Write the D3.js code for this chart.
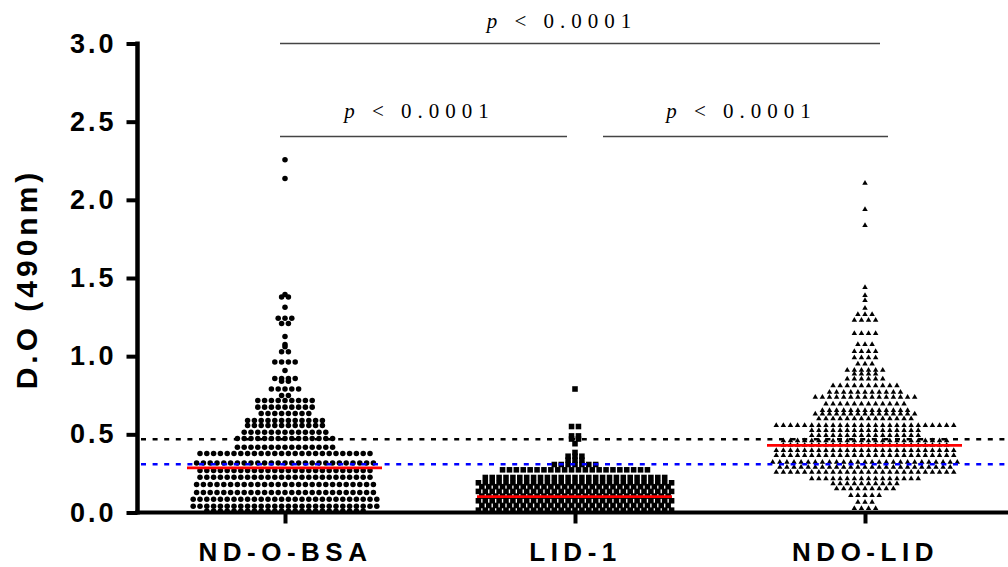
<!DOCTYPE html>
<html>
<head>
<meta charset="utf-8">
<script src="https://cdn.jsdelivr.net/npm/d3@7"></script>
<style>
  body { margin: 0; background: #fff; }
  svg text { font-family: "Liberation Sans", Arial, sans-serif; font-weight: bold; fill: #000; }
  svg text.pval { font-family: "Liberation Serif", "Times New Roman", serif; font-weight: normal; }
</style>
</head>
<body>
<svg id="chart" width="1008" height="567"></svg>
<script>
var groups = ["ND-O-BSA", "LID-1", "NDO-LID"];

// each group is drawn as rows of dots: the O.D. of the row and how many dots sit in it
var bsaRows = [0.01, 0.04, 0.085, 0.128, 0.179, 0.226, 0.269, 0.316, 0.377, 0.418, 0.473, 0.514,
  0.557, 0.589, 0.633, 0.674, 0.717, 0.749, 0.79, 0.84, 0.857, 0.908, 0.962, 1.028, 1.06, 1.075,
  1.126, 1.209, 1.243, 1.313, 1.378, 1.395, 2.137, 2.256];
var bsaCounts = [24, 28, 28, 27, 27, 26, 26, 27, 26, 15, 15, 13, 12, 12, 8, 9, 9, 2, 5, 2, 4, 1, 4,
  2, 1, 1, 1, 2, 3, 1, 2, 1, 1, 1];

var lidRows = [0.015, 0.045, 0.075, 0.105, 0.135, 0.165, 0.19, 0.224, 0.273, 0.307, 0.335, 0.36,
  0.384, 0.44, 0.47, 0.49, 0.55, 0.79];
var lidCounts = [29, 28, 29, 28, 29, 28, 29, 27, 22, 7, 3, 3, 1, 1, 2, 2, 2, 1];

var ndoRows = [0.026, 0.066, 0.109, 0.153, 0.185, 0.217, 0.258, 0.29, 0.322, 0.365, 0.397, 0.43,
  0.46, 0.493, 0.525, 0.557, 0.6, 0.63, 0.653, 0.695, 0.738, 0.769, 0.812, 0.855, 0.887, 0.91,
  0.95, 0.99, 1.03, 1.075, 1.145, 1.23, 1.267, 1.307, 1.356, 1.388, 1.44, 1.836, 1.938, 2.107];
var ndoCounts = [4, 3, 5, 9, 10, 16, 26, 25, 27, 26, 26, 24, 24, 16, 16, 26, 14, 15, 13, 12, 15,
  11, 10, 6, 4, 6, 3, 4, 4, 3, 4, 4, 3, 1, 1, 1, 1, 1, 1, 1];

var medians = [0.286, 0.102, 0.43];
var cutoffs = [0.469, 0.309];
var cutoffColors = ["#000", "#0000ff"];
var yTicks = [0, 0.5, 1.0, 1.5, 2.0, 2.5, 3.0];

// [from group, to group, height of the bracket in O.D. units]
var comparisons = [[0, 2, 3.0], [0, 1, 2.405], [1, 2, 2.405]];
var pSymbol = "p";
var pText = " < 0.0001";

var svg = d3.select("#chart");

var y = d3.scaleLinear().domain([0, 3]).range([512.5, 43.5]);
var x = d3.scalePoint().domain(groups).range([140, 1010]).padding(0.5);

var spacing = [6.8, 6.9, 7.1];
var shapes = [d3.symbolCircle, d3.symbolSquare, d3.symbolTriangle];
var sizes = [24, 31, 13];

function buildRows(rows, counts, gi) {
  var pts = [];
  rows.forEach(function(v, r) {
    var n = counts[r];
    for (var i = 0; i < n; i++) {
      pts.push({ g: gi, v: v, k: i - (n - 1) / 2 });
    }
  });
  return pts;
}

var points = []
  .concat(buildRows(bsaRows, bsaCounts, 0))
  .concat(buildRows(lidRows, lidCounts, 1))
  .concat(buildRows(ndoRows, ndoCounts, 2));

// points
svg.append("g")
  .selectAll("path")
  .data(points)
  .enter()
  .append("path")
    .attr("d", function(d) { return d3.symbol().type(shapes[d.g]).size(sizes[d.g])(); })
    .attr("transform", function(d) {
      return "translate(" + (x(groups[d.g]) + d.k * spacing[d.g]) + "," + y(d.v) + ")";
    })
    .attr("fill", "#000");

// cut-off lines
svg.append("g")
  .selectAll("line")
  .data(cutoffs)
  .enter()
  .append("line")
    .attr("x1", 141)
    .attr("x2", 1008)
    .attr("y1", function(d) { return y(d); })
    .attr("y2", function(d) { return y(d); })
    .attr("stroke", function(d, i) { return cutoffColors[i]; })
    .attr("stroke-width", 2.6)
    .attr("stroke-dasharray", "5,6.6");

// medians
svg.append("g")
  .selectAll("line")
  .data(medians)
  .enter()
  .append("line")
    .attr("x1", function(d, i) { return x(groups[i]) - 98; })
    .attr("x2", function(d, i) { return x(groups[i]) + 97; })
    .attr("y1", function(d) { return y(d); })
    .attr("y2", function(d) { return y(d); })
    .attr("stroke", "#f00")
    .attr("stroke-width", 2.8);

// y axis
var yAxis = svg.append("g")
  .attr("transform", "translate(137.5,0)")
  .call(d3.axisLeft(y).tickValues(yTicks).tickFormat(d3.format(".1f"))
    .tickSize(11).tickSizeOuter(0).tickPadding(10));
yAxis.select(".domain").attr("stroke-width", 4.5).attr("d", "M0," + (y(0) + 2) + "V" + (y(3) - 2));
yAxis.selectAll(".tick line").attr("stroke-width", 4);
yAxis.selectAll(".tick text")
  .attr("font-size", 27)
  .attr("letter-spacing", 3)
  .attr("font-family", null);

// x axis
svg.append("line")
  .attr("x1", 135)
  .attr("x2", 1008)
  .attr("y1", y(0))
  .attr("y2", y(0))
  .attr("stroke", "#000")
  .attr("stroke-width", 4);

var xAxis = svg.append("g")
  .attr("transform", "translate(0," + y(0) + ")")
  .call(d3.axisBottom(x).tickSize(11).tickPadding(19));
xAxis.select(".domain").remove();
xAxis.selectAll(".tick line").attr("stroke-width", 4);
xAxis.selectAll(".tick text")
  .attr("font-size", 26)
  .attr("letter-spacing", 5.5)
  .attr("font-family", null);

// y axis title
svg.append("text")
  .attr("transform", "translate(37,279) rotate(-90)")
  .attr("text-anchor", "middle")
  .attr("font-size", 30)
  .attr("letter-spacing", 4)
  .text("D.O (490nm)");

// significance brackets
var bracketEnds = [[-5, 15], [-5, -8], [28, 23]];
var labelShift = [-18, -4, -4];
var labelRise = [16, 19, 19];

var brackets = svg.append("g")
  .selectAll("g")
  .data(comparisons)
  .enter()
  .append("g");

brackets.append("line")
  .attr("x1", function(d, i) { return x(groups[d[0]]) + bracketEnds[i][0]; })
  .attr("x2", function(d, i) { return x(groups[d[1]]) + bracketEnds[i][1]; })
  .attr("y1", function(d) { return y(d[2]); })
  .attr("y2", function(d) { return y(d[2]); })
  .attr("stroke", "#444")
  .attr("stroke-width", 1.4);

var ptext = brackets.append("text")
  .attr("class", "pval")
  .attr("text-anchor", "middle")
  .attr("font-size", 21)
  .attr("letter-spacing", 6)
  .attr("x", function(d, i) {
    return (x(groups[d[0]]) + bracketEnds[i][0] + x(groups[d[1]]) + bracketEnds[i][1]) / 2 + labelShift[i];
  })
  .attr("y", function(d, i) { return y(d[2]) - labelRise[i]; });

ptext.append("tspan").attr("font-style", "italic").text(pSymbol);
ptext.append("tspan").text(pText);
</script>
</body>
</html>
